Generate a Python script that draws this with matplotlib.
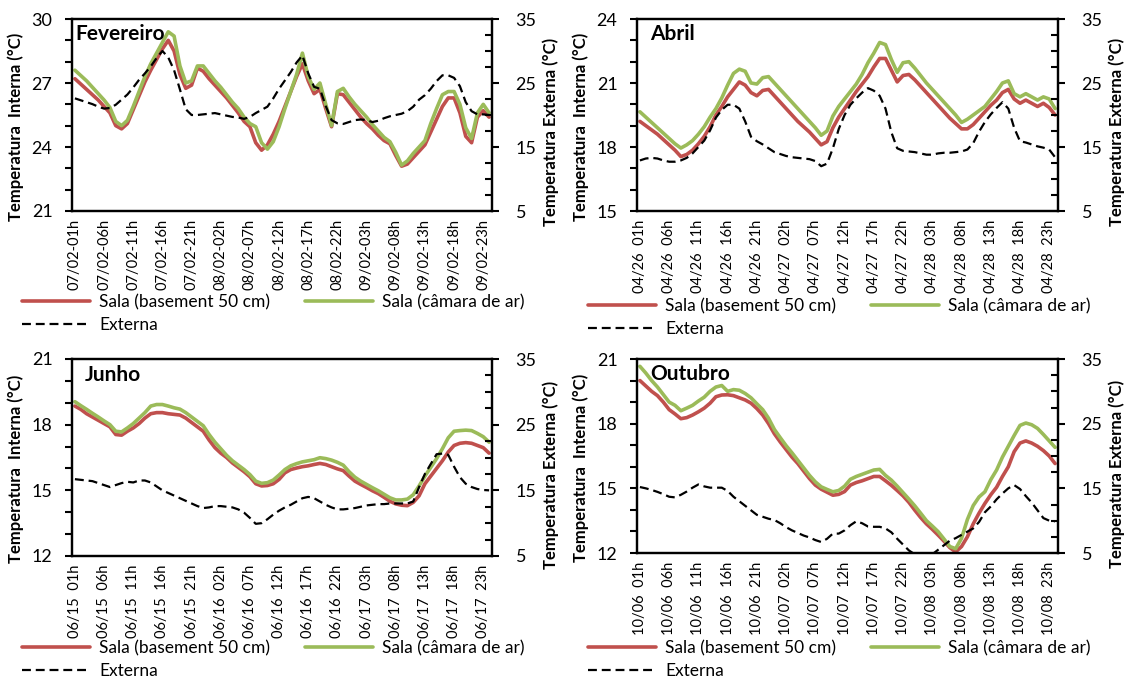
import matplotlib
matplotlib.use('Agg')
import matplotlib.pyplot as plt
from matplotlib.ticker import MultipleLocator, FixedLocator

plt.rcParams['font.family'] = ['Lato', 'DejaVu Sans']

RED = '#C0504D'
GREEN = '#9BBB59'

# --- Fevereiro (07/02 01h .. 10/02 00h, hourly) ---
fev_basement = [27.2, 26.95, 26.7, 26.45, 26.2, 25.9, 25.6, 25.0, 24.85, 25.1,
                25.75, 26.4, 27.05, 27.6, 28.1, 28.6, 29.0, 28.5, 27.4, 26.75,
                26.9, 27.7, 27.55, 27.2, 26.9, 26.6, 26.3, 25.95, 25.6, 25.2,
                24.95, 24.2, 23.85, 24.1, 24.6, 25.2, 25.9, 26.6, 27.3, 27.9,
                27.1, 26.5, 26.7, 25.8, 24.95, 26.5, 26.45, 26.1, 25.75, 25.4,
                25.1, 24.85, 24.55, 24.3, 24.15, 23.6, 23.1, 23.2, 23.5, 23.8,
                24.1, 24.7, 25.3, 25.9, 26.3, 26.3, 25.6, 24.5, 24.2, 25.4,
                25.7, 25.4]
fev_camara = [27.6, 27.35, 27.1, 26.8, 26.5, 26.2, 25.85, 25.2, 25.0, 25.25,
              25.9, 26.6, 27.3, 27.9, 28.4, 28.9, 29.4, 29.2, 27.8, 27.0,
              27.1, 27.8, 27.8, 27.45, 27.1, 26.8, 26.45, 26.1, 25.8, 25.4,
              25.1, 24.95, 24.2, 23.9, 24.25, 24.95, 25.8, 26.6, 27.4, 28.4,
              27.3, 26.7, 27.0, 26.0, 25.0, 26.6, 26.75, 26.35, 26.0, 25.7,
              25.4, 25.05, 24.75, 24.45, 24.25, 23.75, 23.15, 23.35, 23.7, 24.0,
              24.3, 25.1, 25.8, 26.45, 26.6, 26.6, 26.0, 24.9, 24.4, 25.6,
              26.0, 25.6]
fev_externa = [22.6, 22.3, 22.0, 21.7, 21.3, 21.0, 21.1, 21.6, 22.4, 23.2,
               24.3, 25.5, 26.5, 27.6, 28.9, 30.0, 29.0, 27.0, 24.0, 20.9,
               20.0, 20.0, 20.1, 20.2, 20.3, 20.1, 19.9, 19.7, 19.6, 19.4,
               19.7, 20.3, 20.8, 21.3, 22.6, 24.1, 25.4, 26.7, 28.2, 29.3,
               26.5, 24.4, 24.1, 21.4, 19.2, 18.7, 18.6, 18.9, 19.2, 19.3,
               19.2, 18.9, 19.1, 19.5, 19.8, 20.0, 20.2, 20.6, 21.3, 22.4,
               23.1, 24.1, 25.3, 26.2, 26.2, 25.8, 24.5, 22.0, 20.6, 20.1,
               20.1, 20.0]
fev_labels = ['07/02-01h', '07/02-06h', '07/02-11h', '07/02-16h', '07/02-21h',
              '08/02-02h', '08/02-07h', '08/02-12h', '08/02-17h', '08/02-22h',
              '09/02-03h', '09/02-08h', '09/02-13h', '09/02-18h', '09/02-23h']

# --- Abril ---
abr_basement = [19.2, 19.0, 18.8, 18.6, 18.35, 18.1, 17.85, 17.55, 17.65, 17.85,
                18.15, 18.5, 18.95, 19.5, 19.9, 20.35, 20.7, 21.05, 20.9, 20.55,
                20.4, 20.65, 20.7, 20.4, 20.1, 19.8, 19.5, 19.2, 18.95, 18.7,
                18.4, 18.1, 18.25, 18.9, 19.4, 19.8, 20.2, 20.6, 20.95, 21.3,
                21.75, 22.15, 22.15, 21.6, 21.05, 21.35, 21.4, 21.15, 20.85, 20.55,
                20.25, 19.95, 19.65, 19.35, 19.1, 18.85, 18.85, 19.05, 19.35, 19.65,
                19.95, 20.2, 20.55, 20.7, 20.25, 20.05, 20.2, 20.05, 19.9, 20.05,
                19.85, 19.5]
abr_camara = [19.65, 19.4, 19.15, 18.9, 18.65, 18.4, 18.15, 17.95, 18.1, 18.3,
              18.6, 18.95, 19.4, 19.8, 20.3, 20.9, 21.45, 21.65, 21.55, 21.0,
              20.95, 21.25, 21.3, 21.0, 20.7, 20.4, 20.1, 19.8, 19.5, 19.2,
              18.9, 18.55, 18.75, 19.45, 19.9, 20.25, 20.6, 20.95, 21.4, 21.95,
              22.4, 22.9, 22.8, 22.1, 21.5, 21.95, 22.0, 21.7, 21.35, 21.0,
              20.7, 20.4, 20.1, 19.8, 19.5, 19.15, 19.3, 19.5, 19.7, 19.9,
              20.25, 20.6, 21.0, 21.1, 20.5, 20.35, 20.5, 20.35, 20.2, 20.35,
              20.25, 19.8]
abr_externa = [12.9, 13.2, 13.3, 13.2, 12.9, 12.7, 12.7, 12.9, 13.3, 14.0,
               15.0, 16.0, 17.6, 19.6, 20.8, 21.6, 21.6, 21.0, 19.0, 16.6,
               15.9, 15.4, 14.8, 14.2, 13.9, 13.6, 13.4, 13.3, 13.2, 13.1,
               12.8, 12.0, 12.4, 14.8, 17.8, 20.0, 21.6, 22.6, 23.5, 24.2,
               23.8, 23.0, 21.0, 17.3, 14.8, 14.4, 14.3, 14.2, 14.0, 13.8,
               13.8, 14.0, 14.1, 14.1, 14.2, 14.3, 14.6, 15.6, 17.4, 18.9,
               20.1, 21.1, 22.0, 21.0, 18.0, 15.9, 15.7, 15.4, 15.1, 14.9,
               14.6, 13.4]
abr_labels = ['04/26  01h', '04/26  06h', '04/26  11h', '04/26  16h', '04/26  21h',
              '04/27  02h', '04/27  07h', '04/27  12h', '04/27  17h', '04/27  22h',
              '04/28  03h', '04/28  08h', '04/28  13h', '04/28  18h', '04/28  23h']

# --- Junho ---
jun_basement = [18.85, 18.7, 18.5, 18.35, 18.2, 18.05, 17.9, 17.55, 17.52, 17.7,
                17.85, 18.05, 18.3, 18.5, 18.55, 18.55, 18.5, 18.47, 18.44, 18.3,
                18.1, 17.9, 17.7, 17.3, 16.95, 16.7, 16.5, 16.25, 16.05, 15.85,
                15.62, 15.3, 15.2, 15.22, 15.3, 15.5, 15.8, 15.95, 16.02, 16.08,
                16.12, 16.18, 16.23, 16.18, 16.08, 15.98, 15.9, 15.65, 15.42, 15.27,
                15.13, 14.98, 14.85, 14.68, 14.5, 14.38, 14.32, 14.3, 14.45, 14.75,
                15.3, 15.65, 16.0, 16.35, 16.75, 17.05, 17.15, 17.18, 17.15, 17.05,
                16.95, 16.7]
jun_camara = [19.05, 18.87, 18.7, 18.52, 18.35, 18.17, 18.0, 17.7, 17.67, 17.85,
              18.05, 18.3, 18.55, 18.85, 18.92, 18.92, 18.85, 18.77, 18.71, 18.55,
              18.35, 18.15, 17.95, 17.55, 17.2, 16.9, 16.6, 16.35, 16.15, 15.95,
              15.72, 15.42, 15.32, 15.35, 15.47, 15.7, 15.95, 16.12, 16.22, 16.3,
              16.35, 16.4, 16.49, 16.45, 16.38, 16.28, 16.15, 15.85, 15.6, 15.42,
              15.27, 15.12, 14.98, 14.82, 14.66, 14.56, 14.56, 14.6, 14.8, 15.2,
              15.65, 16.05, 16.45, 16.9, 17.4, 17.7, 17.73, 17.75, 17.73, 17.6,
              17.45, 17.2]
jun_externa = [16.7, 16.6, 16.5, 16.4, 16.1, 15.8, 15.5, 15.8, 16.1, 16.3,
               16.2, 16.5, 16.5, 16.2, 15.6, 15.0, 14.6, 14.2, 13.8, 13.4,
               13.0, 12.6, 12.3, 12.4, 12.6, 12.6, 12.5, 12.4, 12.1, 11.6,
               10.8, 9.9, 10.0, 10.6, 11.3, 11.9, 12.4, 12.8, 13.3, 13.8,
               14.0, 13.8, 13.3, 12.8, 12.4, 12.1, 12.1, 12.2, 12.3, 12.5,
               12.7, 12.8, 12.9, 12.9, 13.0, 13.0, 13.0, 13.0, 13.3, 15.5,
               17.5, 19.0, 20.5, 20.6, 20.4, 18.6, 17.0, 16.0, 15.5, 15.2,
               15.05, 15.0]
jun_labels = ['06/15  01h', '06/15  06h', '06/15  11h', '06/15  16h', '06/15  21h',
              '06/16  02h', '06/16  07h', '06/16  12h', '06/16  17h', '06/16  22h',
              '06/17  03h', '06/17  08h', '06/17  13h', '06/17  18h', '06/17  23h']

# --- Outubro ---
out_basement = [20.0, 19.75, 19.5, 19.3, 19.0, 18.65, 18.45, 18.23, 18.28, 18.4,
                18.55, 18.72, 18.95, 19.25, 19.33, 19.34, 19.3, 19.2, 19.1, 18.95,
                18.7, 18.4, 18.0, 17.53, 17.15, 16.8, 16.45, 16.15, 15.8, 15.45,
                15.15, 14.96, 14.82, 14.68, 14.72, 14.85, 15.15, 15.27, 15.35, 15.45,
                15.55, 15.55, 15.35, 15.14, 14.9, 14.65, 14.35, 13.99, 13.65, 13.35,
                13.1, 12.83, 12.55, 12.25, 12.05, 12.3, 12.75, 13.35, 13.85, 14.3,
                14.7, 15.05, 15.55, 16.0, 16.7, 17.1, 17.2, 17.1, 16.95, 16.75,
                16.5, 16.15]
out_camara = [20.66, 20.35, 20.0, 19.7, 19.35, 19.0, 18.85, 18.6, 18.72, 18.85,
              19.05, 19.23, 19.5, 19.7, 19.77, 19.5, 19.58, 19.55, 19.4, 19.2,
              18.92, 18.65, 18.25, 17.73, 17.35, 16.98, 16.65, 16.3, 15.95, 15.6,
              15.3, 15.07, 14.95, 14.84, 14.9, 15.1, 15.42, 15.55, 15.65, 15.75,
              15.85, 15.88, 15.6, 15.38, 15.1, 14.8, 14.5, 14.19, 13.85, 13.5,
              13.25, 12.99, 12.65, 12.3, 12.2, 12.68, 13.55, 14.2, 14.6, 14.84,
              15.4, 15.85, 16.45, 16.95, 17.45, 17.92, 18.03, 17.95, 17.78, 17.5,
              17.2, 16.9]
out_externa = [15.2, 15.0, 14.75, 14.45, 14.1, 13.7, 13.6, 14.0, 14.5, 15.1,
               15.6, 15.3, 15.1, 15.1, 15.1, 14.6, 13.7, 13.0, 12.3, 11.6,
               10.9, 10.6, 10.3, 10.1, 9.6, 9.0, 8.5, 8.1, 7.7, 7.4,
               7.0, 6.7, 7.2, 8.0, 8.0, 8.5, 9.3, 9.9, 9.6, 9.1,
               9.05, 9.05, 8.8, 8.2, 7.2, 6.3, 5.4, 4.8, 4.6, 4.6,
               4.8, 5.5, 6.2, 6.9, 7.3, 7.8, 8.3, 8.8, 9.8, 11.3,
               12.2, 13.3, 14.2, 15.0, 15.5, 14.9, 13.8, 12.8, 11.6, 10.4,
               10.0, 9.9]
out_labels = ['10/06  01h', '10/06  06h', '10/06  11h', '10/06  16h', '10/06  21h',
              '10/07  02h', '10/07  07h', '10/07  12h', '10/07  17h', '10/07  22h',
              '10/08  03h', '10/08  08h', '10/08  13h', '10/08  18h', '10/08  23h']

ext_ticks = [5, 15, 25, 35]
ext_minor = [7.5, 10, 12.5, 17.5, 20, 22.5, 27.5, 30, 32.5]

W, H = 1133, 681
fig = plt.figure(figsize=(W / 100, H / 100), dpi=100)


def px_rect(left, top, right, bottom):
    return [left / W, 1 - bottom / H, (right - left) / W, (bottom - top) / H]


panels = [
    dict(title='Fevereiro', bas=fev_basement, cam=fev_camara, ext=fev_externa,
         labels=fev_labels, ylim=(21, 30), rect=px_rect(72, 19, 492, 211),
         tx=0.007, leg=(22, 294)),
    dict(title='Abril', bas=abr_basement, cam=abr_camara, ext=abr_externa,
         labels=abr_labels, ylim=(15, 24), rect=px_rect(637, 19, 1058, 211),
         tx=0.031, leg=(588, 298)),
    dict(title='Junho', bas=jun_basement, cam=jun_camara, ext=jun_externa,
         labels=jun_labels, ylim=(12, 21), rect=px_rect(72, 359, 492, 556),
         tx=0.031, leg=(22, 640)),
    dict(title='Outubro', bas=out_basement, cam=out_camara, ext=out_externa,
         labels=out_labels, ylim=(12, 21), rect=px_rect(637, 359, 1058, 553),
         tx=0.031, leg=(588, 640)),
]

for p in panels:
    ax = fig.add_axes(p['rect'])
    ax2 = ax.twinx()
    hours = list(range(len(p['bas'])))

    l1, = ax.plot(hours, p['bas'], color=RED, lw=2.6, solid_capstyle='round')
    l2, = ax.plot(hours, p['cam'], color=GREEN, lw=2.6, solid_capstyle='round')
    l3, = ax2.plot(hours, p['ext'], color='black', lw=1.6, dashes=(4, 2.2))

    ax.set_xlim(-0.5, len(hours) - 0.5)
    ax.set_ylim(*p['ylim'])
    ax2.set_ylim(5, 35)

    ax.set_xticks(range(0, len(hours), 5))
    ax.set_xticklabels(p['labels'], rotation=90, fontsize=10.5)
    ax.tick_params(axis='x', length=0, pad=6)

    ax.yaxis.set_major_locator(MultipleLocator(3))
    ax.yaxis.set_minor_locator(MultipleLocator(1))
    ax.tick_params(axis='y', which='both', direction='out', length=5, width=1.5,
                   labelsize=13, pad=9)
    ax2.yaxis.set_major_locator(FixedLocator(ext_ticks))
    ax2.yaxis.set_minor_locator(FixedLocator(ext_minor))
    ax2.tick_params(axis='y', which='major', direction='out', length=5, width=1.5,
                    labelsize=13, pad=12)
    ax2.tick_params(axis='y', which='minor', direction='in', length=5, width=1.5)

    for a in (ax, ax2):
        for s in a.spines.values():
            s.set_linewidth(1.6)

    ax.set_ylabel('Temperatura  Interna (°C)', fontsize=12, fontweight='bold', va='center')
    ax.yaxis.set_label_coords(-0.133, 0.44)
    ax2.set_ylabel('Temperatura Externa (°C)', fontsize=12, fontweight='bold', va='center')
    ax2.yaxis.set_label_coords(1.14, 0.41)

    ax.text(p['tx'], 0.89, p['title'], transform=ax.transAxes, fontsize=15,
            fontweight='bold', va='baseline', ha='left')

    lx, ly = p['leg']
    ax.legend([l1, l3, l2], ['Sala (basement 50 cm)', 'Externa', 'Sala (câmara de ar)'],
              ncol=2, loc='upper left', bbox_to_anchor=(lx / W, 1 - ly / H),
              bbox_transform=fig.transFigure, frameon=False, fontsize=12.5,
              handlelength=3.9, handletextpad=0.55, columnspacing=2.0,
              labelspacing=0.4, borderpad=0, borderaxespad=0)

fig.savefig('out.png', dpi=100)
